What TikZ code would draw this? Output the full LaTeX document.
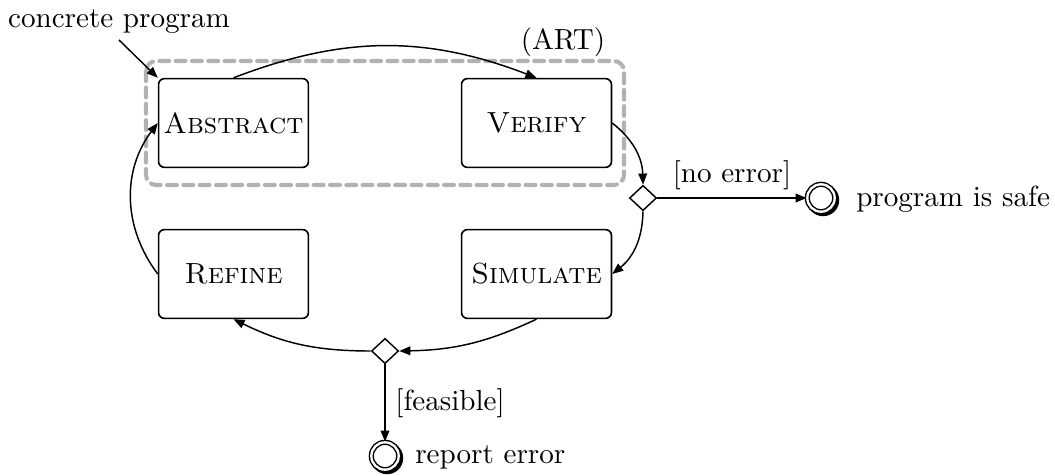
\documentclass[tikz,border=0pt]{standalone}
\usepackage{fontspec}
\usetikzlibrary{shapes.geometric,arrows.meta,shadows}

\begin{document}
\begin{tikzpicture}[x=0.3436pt,y=0.3436pt,
  state/.style={draw, rounded corners=2pt, line width=0.55pt,
    minimum width=51.5pt, minimum height=30.5pt, inner sep=0pt, font=\scshape},
  choice/.style={diamond, draw, fill=white, inner sep=0pt,
    minimum width=9.3pt, minimum height=8.7pt, line width=0.5pt},
  final/.style={circle, draw, fill=white, double, double distance=0.8pt,
    line width=0.5pt, minimum size=9.4pt, inner sep=0pt,
    general shadow={fill=black, shadow scale=1.18,
      shadow xshift=0.6pt, shadow yshift=-0.6pt}},
  flow/.style={-{Triangle[length=3.8pt,width=3pt]}, line width=0.5pt},
  region/.style={draw=black!30, line width=1.4pt,
    dash pattern=on 3.4pt off 2.2pt, line cap=round, rounded corners=3.5pt}
]
\useasboundingbox (0,0) rectangle (1055,-475);

% abstraction region
\draw[region] (146,-61) rectangle (624,-185);
\node (art) at (563,-42) {(ART)};

% activities
\node[state] (abstract) at (233.5,-123) {Abstract};
\node[state] (verify)   at (536.5,-123) {Verify};
\node[state] (refine)   at (233.5,-274) {Refine};
\node[state] (simulate) at (536.5,-274) {Simulate};

% decisions and final states
\node[choice] (d1) at (643,-198) {};
\node[choice] (d2) at (385,-351) {};
\node[final] (safe)   at (821,-198) {};
\node[final] (report) at (385,-456) {};
\node[anchor=west] (safetext)   at (846,-199) {program is safe};
\node[anchor=west] (reporttext) at (405,-457) {report error};
\node[anchor=south, inner sep=2pt] (concrete) at (119,-40) {concrete program};

% control flow
\draw[flow] (concrete.south) -- (abstract.north west);
\draw[flow] (abstract.north) to[bend left=21] (verify.north);
\draw[flow] (verify.east) to[bend left=25] (d1.north);
\draw[flow] (d1.south) to[bend left=25] (simulate.east);
\draw[flow] (d1.east) -- node[above, inner sep=2.5pt] {[no error]} (safe.west);
\draw[flow] (simulate.south) to[bend left=12] (d2.east);
\draw[flow] (d2.west) to[bend left=13] (refine.south);
\draw[flow] (d2.south) -- node[right] {[feasible]} (report.north);
\draw[flow] (refine.west) to[bend left=37] (abstract.west);
\end{tikzpicture}
\end{document}
